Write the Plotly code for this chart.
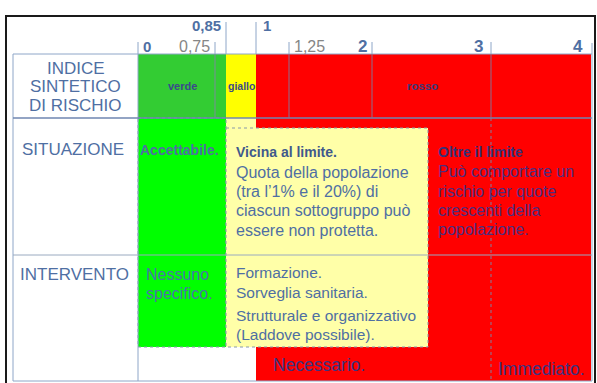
import plotly.graph_objects as go

# ---------------- data ----------------
scale_ticks_top = ["0,85", "1"]
scale_ticks_bottom = ["0", "0,75", "1,25", "2", "3", "4"]
band_labels = ["verde", "giallo", "rosso"]
row_labels = ["INDICE<br>SINTETICO<br>DI RISCHIO", "SITUAZIONE", "INTERVENTO"]
situazione_verde = ["Accettabile."]
situazione_giallo = ["Vicina al limite.", "Quota della popolazione", "(tra l\u20191% e il 20%) di",
                     "ciascun sottogruppo può", "essere non protetta."]
situazione_rosso = ["Oltre il limite", "Può comportare un", "rischio per quote",
                    "crescenti della", "popolazione."]
intervento_verde = ["Nessuno", "specifico."]
intervento_giallo = ["Formazione.", "Sorveglia sanitaria.", "Strutturale e organizzativo",
                     "(Laddove possibile)."]
intervento_rosso = ["Necessario.", "Immediato."]

# ---------------- layout helpers ----------------
FONT = "Arial, 'Liberation Sans', sans-serif"
BLUE = "#4F6FA3"
DARK = "#343278"
LINE = "#8EA6C8"

shapes = []
annotations = []


def rect(x0, y0, x1, y1, fill, line_color=None, width=0, dash=None):
    ln = dict(width=width)
    if line_color:
        ln["color"] = line_color
    if dash:
        ln["dash"] = dash
    shapes.append(dict(type="rect", xref="x", yref="y", x0=x0, y0=y0, x1=x1, y1=y1,
                       fillcolor=fill, line=ln, layer="below"))


def line(x0, y0, x1, y1, color=LINE, width=1, dash=None, layer="above"):
    ln = dict(color=color, width=width)
    if dash:
        ln["dash"] = dash
    shapes.append(dict(type="line", xref="x", yref="y", x0=x0, y0=y0, x1=x1, y1=y1,
                       line=ln, layer=layer))


def text(x, y, t, size, color=BLUE, anchor="left", bold=False):
    if bold:
        t = "<b>" + t + "</b>"
    annotations.append(dict(x=x, y=y, xref="x", yref="y", text=t, showarrow=False,
                            xanchor=anchor, yanchor="middle", align="center",
                            font=dict(family=FONT, size=size, color=color)))


# outer frame
rect(6, 16, 595, 390, "rgba(0,0,0,0)", "#1a1a1a", 2)

# colored areas
rect(138, 54, 226, 118, "#33CC33")
rect(226, 54, 256, 118, "#FFFF00")
rect(256, 54, 591, 118, "#FF0000")
rect(256, 118, 591, 381, "#FF0000")
rect(226, 118, 256, 128, "#FFFFA8")
rect(138, 118, 226, 347, "#00FF00", "#8899AA", 1, "dot")
rect(226, 128, 428, 347, "#FFFFA8", "#8899AA", 1, "dot")

# table lines
line(13, 54, 592, 54)
line(13, 54, 13, 381)
line(13, 381, 592, 381)
line(138, 54, 138, 381)
line(13, 118, 592, 118, color="#6F86B0", width=1.5)
line(13, 255, 592, 255, color="#9AAAC0")
line(592, 43, 592, 381)
line(491, 118, 491, 381, color="#8080A0", dash="dot")
for xv, col in [(215, "#7A8C9A"), (289, "#8A7090"), (372, "#8A7090"), (491, "#8A7090")]:
    line(xv, 54, xv, 118, color=col)

# scale tick marks
for xv in [226, 256]:
    line(xv, 22, xv, 54)
for xv in [138, 215, 289, 372, 491]:
    line(xv, 42, xv, 54)

# scale tick labels
text(223, 25.5, scale_ticks_top[0], 15, BLUE, "right", True)
text(261, 25.5, scale_ticks_top[1], 15, BLUE, "left", True)
text(141, 46, scale_ticks_bottom[0], 15, BLUE, "left", True)
text(212, 46, scale_ticks_bottom[1], 16, "#868686", "right")
text(292, 46, scale_ticks_bottom[2], 16, "#868686", "left")
text(369, 46, scale_ticks_bottom[3], 17, BLUE, "right", True)
text(485, 46, scale_ticks_bottom[4], 17, BLUE, "right", True)
text(585, 46, scale_ticks_bottom[5], 17, BLUE, "right", True)

# header band labels
text(182, 86, band_labels[0], 11, "#3A4A8A", "center", True)
text(241, 86, band_labels[1], 10.5, "#3A4A8A", "center", True)
text(422, 86, band_labels[2], 11.5, "#3A3A7A", "center", True)

# row labels
for i, t in enumerate(row_labels[0].split("<br>")):
    text(75.5, [68, 86, 105.5][i], t, 17, BLUE, "center")
text(20, 149.5, row_labels[1], 17, BLUE, "left")
text(18, 274, row_labels[2], 17, BLUE, "left")

# situazione
text(138, 150, situazione_verde[0], 14, BLUE, "left", True)
text(234, 152, situazione_giallo[0], 14, "#3F5A8C", "left", True)
for t, yv in zip(situazione_giallo[1:], [172, 191, 210.5, 230]):
    text(234, yv, t, 16, BLUE, "left")
text(436, 151.5, situazione_rosso[0], 14, DARK, "left", True)
for t, yv in zip(situazione_rosso[1:], [171.5, 191, 210, 229]):
    text(436, yv, t, 16, "#4A2E80", "left")

# intervento
for t, yv in zip(intervento_verde, [274, 293]):
    text(144, yv, t, 16, "#4A74A8", "left")
for t, yv in zip(intervento_giallo, [272, 292, 315, 334]):
    text(234, yv, t, 15.5, BLUE, "left")
text(271, 365, intervento_rosso[0], 17.5, "#3A3480", "left")
text(496, 368.5, intervento_rosso[1], 17.5, "#3A3480", "left")

fig = go.Figure()
fig.update_layout(
    width=597, height=383,
    margin=dict(l=0, r=0, t=0, b=0),
    paper_bgcolor="white", plot_bgcolor="white",
    xaxis=dict(range=[0, 597], visible=False, fixedrange=True),
    yaxis=dict(range=[383, 0], visible=False, fixedrange=True),
    shapes=shapes, annotations=annotations,
    showlegend=False,
)
fig.write_html(
    "out.html",
    config=dict(displayModeBar=False),
    post_script="document.body.style.margin='0';document.body.style.overflow='hidden';",
)
